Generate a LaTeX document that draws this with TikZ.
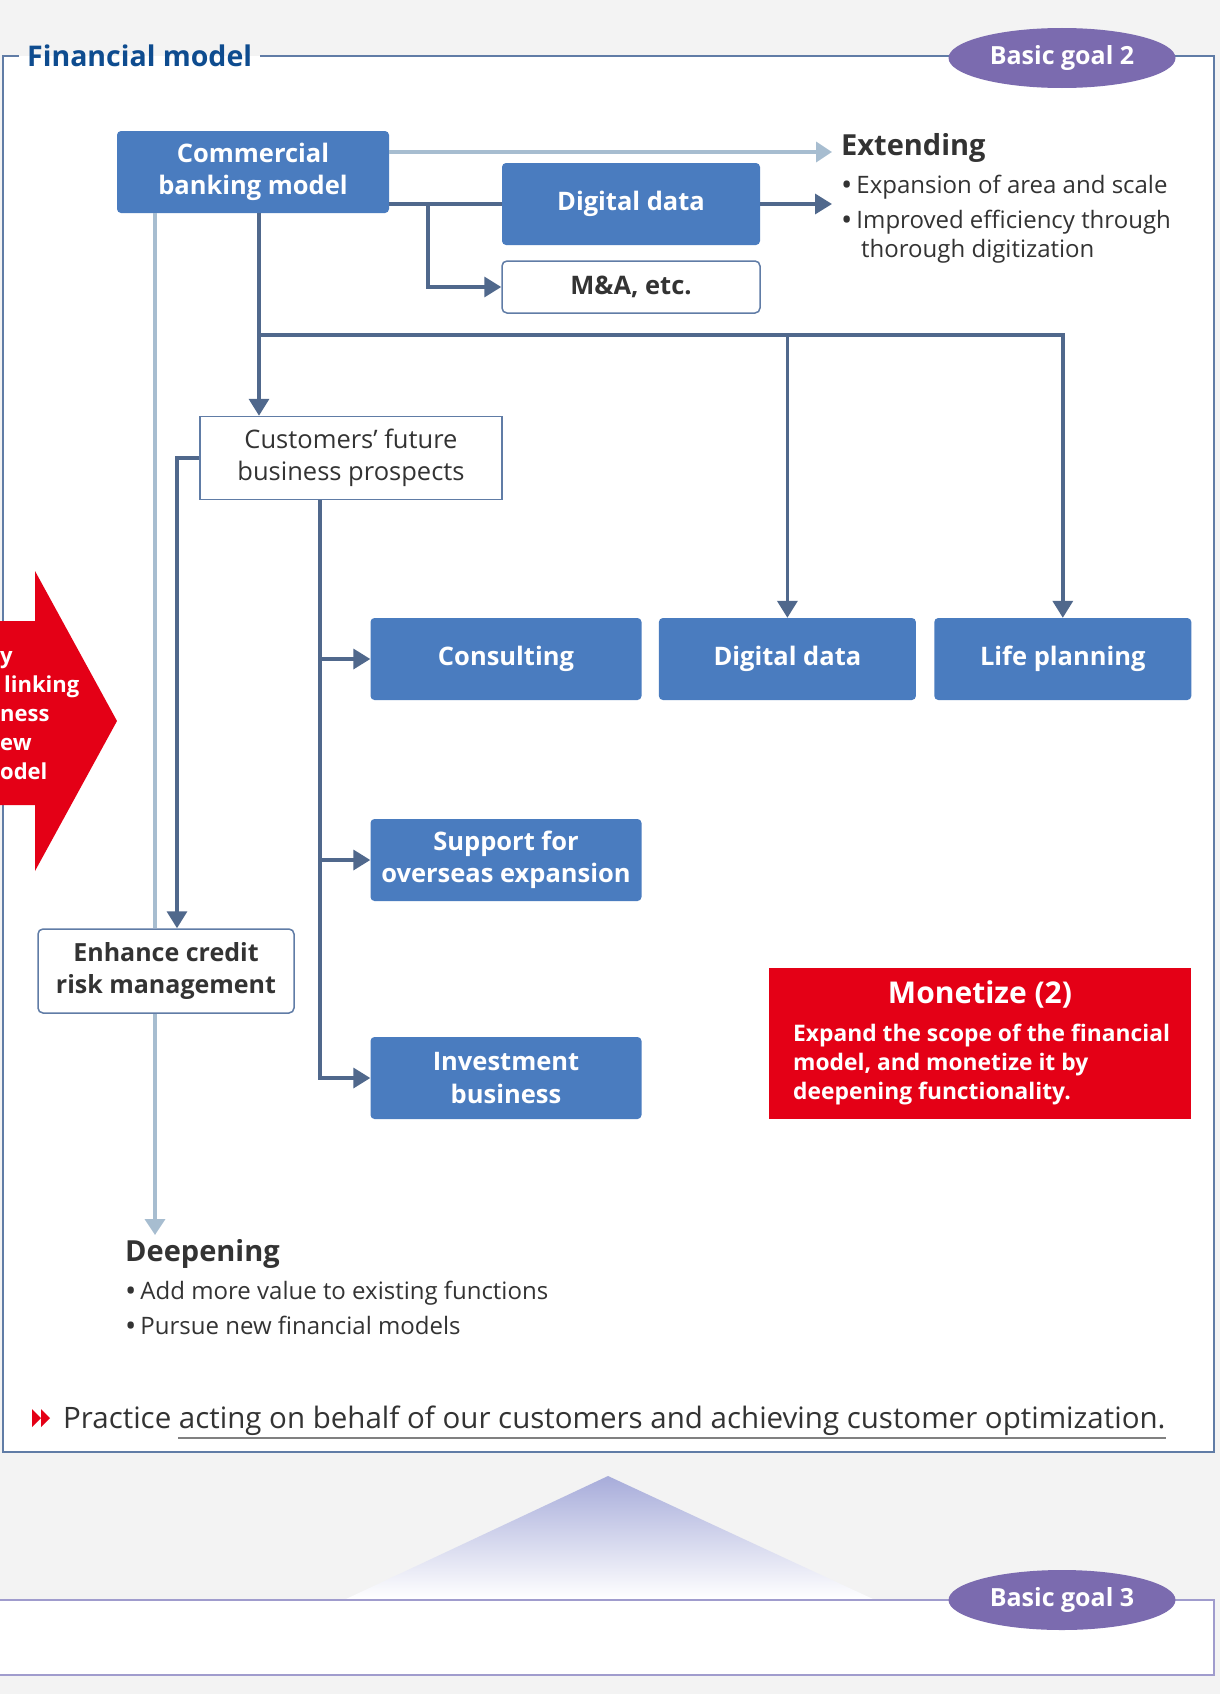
\documentclass[tikz,border=0pt]{standalone}
\usepackage{fontspec}
\setmainfont{Open Sans}
\usetikzlibrary{arrows.meta,shapes.geometric,positioning}

\definecolor{pagegray}{RGB}{243,243,243}
\definecolor{boxblue}{RGB}{74,124,191}
\definecolor{linedark}{RGB}{80,104,140}
\definecolor{linelight}{RGB}{167,189,208}
\definecolor{frameblue}{RGB}{96,124,166}
\definecolor{goalpurple}{RGB}{123,107,175}
\definecolor{markred}{RGB}{228,0,22}
\definecolor{titleblue}{RGB}{14,76,143}
\definecolor{textgray}{RGB}{51,51,51}
\definecolor{lavender}{RGB}{160,156,205}
\definecolor{tritop}{RGB}{167,172,218}

\newcommand{\bul}{{\fontsize{30}{30}\selectfont\raisebox{-1.5pt}{•}}\,}

\tikzset{
  bluebox/.style={fill=boxblue, rounded corners=4pt, text=white, align=center,
    font=\fontsize{25.5}{32.5}\selectfont\bfseries, minimum height=82pt, inner sep=0pt},
  whitebox/.style={draw=frameblue, line width=1.5pt, fill=white, text=textgray,
    align=center, inner sep=0pt},
  goal/.style={ellipse, fill=goalpurple, text=white, minimum width=227pt,
    minimum height=60pt, inner sep=0pt, font=\fontsize{25}{30}\selectfont\bfseries},
  darkline/.style={draw=linedark, line width=3.5pt},
  darkarrow/.style={darkline, -{Triangle[length=17pt,width=20pt]}},
  lightline/.style={draw=linelight, line width=3.5pt},
  lightarrow/.style={lightline, -{Triangle[length=16pt,width=20pt]}},
  frameline/.style={draw=frameblue, line width=1.5pt},
  headtext/.style={anchor=west, inner sep=0pt, text=textgray,
    font=\fontsize{29}{34}\selectfont\bfseries},
  pointtext/.style={anchor=north west, inner sep=0pt, text=textgray, align=left,
    font=\fontsize{24}{29}\selectfont}
}

\begin{document}
\begin{tikzpicture}[x=1pt, y=-1pt]
  \useasboundingbox (0,0) rectangle (1220,1694);
  \clip (0,0) rectangle (1220,1694);
  \fill[pagegray] (0,0) rectangle (1220,1694);

  % upper frame
  \fill[white] (3,56) rectangle (1214,1452);
  \node[anchor=west, inner xsep=8pt, inner ysep=0pt, text=titleblue,
    font=\fontsize{28.5}{32}\selectfont\bfseries] (fm) at (19,56) {Financial model};
  \draw[frameline] (fm.west) -- (3,56) -- (3,1452) -- (1214,1452) -- (1214,56) -- (fm.east);
  \node[goal] (goal2) at (1062,58) {Basic goal 2};

  % red arrow on the left edge
  \fill[markred] (-5,621) -- (35,621) -- (35,571) -- (117,721) -- (35,871)
    -- (35,805) -- (-5,805) -- cycle;
  \node[anchor=west, inner sep=0pt, text=white, align=left,
    font=\fontsize{22}{29}\selectfont\bfseries] (side) at (0,716)
    {y\\\hspace*{4pt}linking\\ness\\ew\\odel};

  % boxes
  \node[bluebox, minimum width=272pt] (cbm) at (253,172) {Commercial\\banking model};
  \node[bluebox, minimum width=258pt] (dd1) at (631,204) {Digital data};
  \node[whitebox, rounded corners=5pt, minimum width=258pt, minimum height=52pt,
    font=\fontsize{25.5}{32.5}\selectfont\bfseries] (ma) at (631,287) {M\&A, etc.};
  \node[whitebox, minimum width=302pt, minimum height=83pt,
    font=\fontsize{25.5}{32.5}\selectfont] (cust) at (351,458) {Customers’ future\\business prospects};
  \node[whitebox, rounded corners=5pt, minimum width=256pt, minimum height=84pt,
    font=\fontsize{25}{32.5}\selectfont\bfseries] (cred) at (166,971) {Enhance credit\\risk management};
  \node[bluebox, minimum width=271pt] (cons) at (506,659) {Consulting};
  \node[bluebox, minimum width=257pt, right=17pt of cons] (dd2) {Digital data};
  \node[bluebox, minimum width=257pt, right=18pt of dd2] (life) {Life planning};
  \node[bluebox, minimum width=271pt] (sup) at (506,860) {Support for\\overseas expansion};
  \node[bluebox, minimum width=271pt] (inv) at (506,1078) {Investment\\business};
  \node[fill=markred, minimum width=422pt, minimum height=151pt] (mon) at (980,1043) {};
  \node[below=13pt of mon.north, inner sep=0pt, text=white,
    font=\fontsize{30}{36}\selectfont\bfseries] (montitle) {Monetize (2)};
  \node[anchor=north west, inner sep=0pt, text=white, align=left,
    font=\fontsize{22.8}{29}\selectfont\bfseries] (montext) at (793,1024)
    {Expand the scope of the financial\\model, and monetize it by\\deepening functionality.};

  % texts
  \node[headtext] (ext) at (841,148) {Extending};
  \node[pointtext] (extlist) at (841,175)
    {\bul Expansion of area and scale\\[6pt]\bul Improved efficiency through\\\hspace*{20pt}thorough digitization};
  \node[headtext] (deep) at (125,1254) {Deepening};
  \node[pointtext] (deeplist) at (125,1281)
    {\bul Add more value to existing functions\\[6pt]\bul Pursue new financial models};

  % connectors
  \coordinate (extA) at (832,152);
  \coordinate (extB) at (832,204);
  \draw[lightarrow] (cbm.east |- extA) -- (extA);
  \draw[darkline] (cbm.east |- dd1.west) -- (dd1.west);
  \draw[darkarrow] (dd1.east) -- (extB);
  \coordinate (maj) at (428,204);
  \draw[darkarrow] (maj) |- (ma.west);
  \coordinate (trk) at (259,335);
  \draw[darkarrow] (cbm.south -| trk) -- (cust.north -| trk);
  \draw[darkarrow] (trk) -| (life.north);
  \draw[darkarrow] (trk -| dd2.north) -- (dd2.north);
  \coordinate (crj) at (177,458);
  \draw[darkarrow] (cust.west |- crj) -- (crj) -- (crj |- cred.north);
  \coordinate (bsj) at (320,499);
  \draw[darkarrow] (cust.south -| bsj) |- (inv.west);
  \draw[darkarrow] (bsj |- cons.west) -- (cons.west);
  \draw[darkarrow] (bsj |- sup.west) -- (sup.west);
  \coordinate (dpA) at (155,1235);
  \draw[lightline] (cbm.south -| dpA) -- (cred.north -| dpA);
  \draw[lightarrow] (cred.south -| dpA) -- (dpA);

  % closing line
  \fill[markred] (32,1409) -- (41,1418) -- (32,1427) -- cycle;
  \fill[markred] (41,1409) -- (50,1418) -- (41,1427) -- cycle;
  \node[anchor=west, inner sep=0pt, text=textgray, font=\fontsize{29.5}{34}\selectfont]
    (prac) at (63,1421) {Practice acting on behalf of our customers and achieving customer optimization.};
  \coordinate (ulA) at (178,1438);
  \draw[draw=gray, line width=2pt] (ulA) -- (ulA -| prac.east);

  % lower part
  \shade[top color=tritop, bottom color=white] (608,1476) -- (873,1599) -- (346,1599) -- cycle;
  \fill[white] (-5,1600) rectangle (1214,1675);
  \draw[draw=lavender, line width=1.5pt] (-5,1600) -- (1214,1600) -- (1214,1675) -- (-5,1675);
  \node[goal] (goal3) at (1062,1600) {Basic goal 3};
\end{tikzpicture}
\end{document}
